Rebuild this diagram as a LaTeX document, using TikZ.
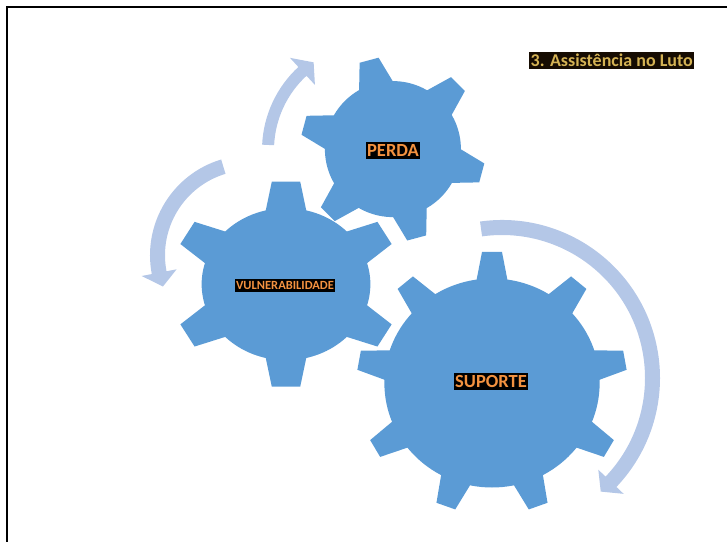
\documentclass[tikz,border=0pt]{standalone}
\usepackage{fontspec}
\setmainfont{Carlito}
\usetikzlibrary{calc}

\definecolor{gearblue}{RGB}{91,155,213}
\definecolor{arrowblue}{RGB}{180,199,231}
\definecolor{labelorange}{RGB}{243,146,64}
\definecolor{titlegold}{RGB}{212,178,84}
\definecolor{titlebg}{RGB}{22,12,2}

% cogwheel: #1 cx, #2 cy, #3 horizontal stretch, #4 number of teeth,
% #5 angle of the first tooth, #6 tip radius, #7 body radius,
% #8 tip half-width, #9 root half-width (12 units inside the body)
\newcommand\cogwheel[9]{%
  \begin{scope}[shift={(#1,#2)}, xscale=#3]
    \fill[gearblue] (0,0) circle[radius=#7];
    \foreach \k in {1,...,#4} {
      \pgfmathsetmacro\rootr{#7-12}
      \fill[gearblue, rotate={#5+(\k-1)*360/#4}]
        (\rootr,-#9) -- (#6,-#8) -- (#6,#8) -- (\rootr,#9) -- cycle;
    }
  \end{scope}}

% curved arrow: #1 centre coordinate, #2 mid radius, #3 half shaft width,
% #4 start angle, #5 angle of the head base, #6 tip angle, #7 head half-width
\newcommand\ringarrow[7]{%
  \pgfmathsetmacro\rout{#2+#3}%
  \pgfmathsetmacro\rin{#2-#3}%
  \pgfmathsetmacro\wout{#2+#7}%
  \pgfmathsetmacro\win{#2-#7}%
  \fill[arrowblue]
    ($(#1)+(#4:\rout)$) arc[start angle=#4, end angle=#5, radius=\rout]
    -- ($(#1)+(#5:\wout)$) -- ($(#1)+(#6:#2)$) -- ($(#1)+(#5:\win)$)
    -- ($(#1)+(#5:\rin)$) arc[start angle=#5, end angle=#4, radius=\rin]
    -- cycle;}

\tikzset{
  lbl/.style={fill=black, text=labelorange, inner xsep=1.5pt, inner ysep=2.5pt,
    text depth=0pt, font=\bfseries\fontsize{18.5}{20}\selectfont, text height=12pt},
  smalllbl/.style={lbl, inner ysep=2.2pt, text height=8.2pt,
    font=\bfseries\fontsize{12.5}{14}\selectfont},
  titlelbl/.style={fill=titlebg, text=titlegold, inner xsep=1.5pt, inner ysep=2.5pt,
    text depth=0pt, text height=12pt, font=\bfseries\fontsize{18}{20}\selectfont},
  frameline/.style={line width=2pt, black}
}

\begin{document}
\begin{tikzpicture}[x=1pt, y=1pt]
  \useasboundingbox (0,0) rectangle (727,541);

  % page frame
  \draw[frameline] (7,-3) -- (7,534.3) -- (730,534.3);

  % centres of the curved arrows
  \coordinate (ca) at (375,391);
  \coordinate (cb) at (250.1,285.7);
  \coordinate (cc) at (502,163);

  % gears
  \cogwheel{492}{158}{1.03}{9}{90}{131}{104.5}{9.7}{17}
  \cogwheel{286}{256.8}{1.11}{6}{90}{102.5}{76}{12.8}{20.1}
  \cogwheel{392.9}{391.9}{1}{6}{105}{92}{68}{9.8}{20.2}

  % curved arrows
  \ringarrow{ca}{107}{6}{177.3}{132.7}{125}{18.4}
  \ringarrow{cb}{92.6}{7.5}{106.8}{190.8}{199.7}{17.8}
  \ringarrow{cc}{150.5}{7.5}{98}{-43.6}{-49}{17.5}

  % labels
  \node[lbl] (perda) at (393,390.7) {PERDA};
  \node[smalllbl] (vuln) at (285,255.7) {VULNERABILIDADE};
  \node[lbl] (suporte) at (491,159.8) {SUPORTE};
  \node[titlelbl] (title) at (611.7,480.2) {3. Assistência no Luto};
\end{tikzpicture}
\end{document}
